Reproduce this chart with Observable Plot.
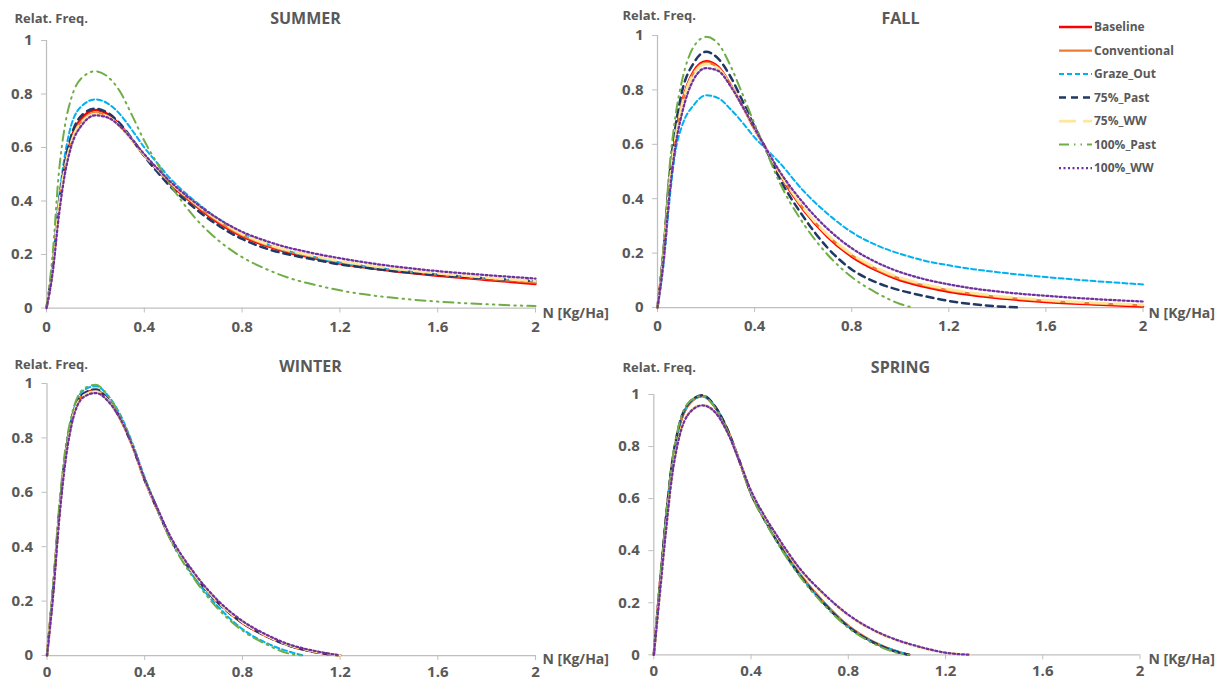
<!DOCTYPE html>
<html>
<head>
<meta charset="utf-8">
<script src="https://cdn.jsdelivr.net/npm/d3@7"></script>
<script src="https://cdn.jsdelivr.net/npm/@observablehq/plot@0.6"></script>
<style>
  html, body { margin: 0; padding: 0; background: #fff; }
  #wrap { position: relative; width: 1225px; height: 681px; overflow: hidden; font-family: 'Open Sans', sans-serif; }
</style>
</head>
<body>
<div id="wrap"></div>
<script>
// ---------------- DATA ----------------
const xs = [0, 0.025, 0.05, 0.075, 0.1, 0.15, 0.2, 0.25, 0.3, 0.35, 0.4, 0.45, 0.5, 0.6, 0.7, 0.8, 0.9, 1.0, 1.05, 1.1, 1.2, 1.3, 1.4, 1.5, 1.6, 1.8, 2.0];
const seriesNames = ["Baseline", "Conventional", "Graze_Out", "75%_Past", "75%_WW", "100%_Past", "100%_WW"];
const seasons = ["SUMMER", "FALL", "WINTER", "SPRING"];
const xTicks = [0, 0.4, 0.8, 1.2, 1.6, 2];
const yTicks = [0, 0.2, 0.4, 0.6, 0.8, 1];

// SUMMER
const summerBaseline     = [0, 0.15, 0.38, 0.53, 0.63, 0.715, 0.74, 0.725, 0.685, 0.63, 0.57, 0.52, 0.47, 0.39, 0.32, 0.268, 0.232, 0.205, 0.195, 0.185, 0.166, 0.152, 0.14, 0.13, 0.121, 0.105, 0.09];
const summerConventional = [0, 0.15, 0.37, 0.52, 0.62, 0.705, 0.73, 0.718, 0.68, 0.627, 0.57, 0.52, 0.472, 0.393, 0.325, 0.272, 0.236, 0.209, 0.199, 0.189, 0.17, 0.156, 0.144, 0.134, 0.125, 0.109, 0.095];
const summerGrazeOut     = [0, 0.16, 0.40, 0.57, 0.68, 0.76, 0.78, 0.765, 0.725, 0.665, 0.60, 0.545, 0.49, 0.405, 0.335, 0.28, 0.24, 0.21, 0.199, 0.189, 0.17, 0.157, 0.145, 0.135, 0.127, 0.112, 0.1];
const summer75Past       = [0, 0.15, 0.38, 0.54, 0.64, 0.725, 0.745, 0.73, 0.69, 0.632, 0.568, 0.512, 0.46, 0.378, 0.31, 0.258, 0.222, 0.198, 0.189, 0.18, 0.163, 0.151, 0.14, 0.131, 0.124, 0.111, 0.1];
const summer75WW         = [0, 0.15, 0.37, 0.52, 0.615, 0.70, 0.725, 0.715, 0.68, 0.628, 0.572, 0.523, 0.476, 0.397, 0.33, 0.277, 0.24, 0.213, 0.203, 0.193, 0.175, 0.161, 0.149, 0.139, 0.13, 0.114, 0.1];
const summer100Past      = [0, 0.2, 0.5, 0.68, 0.78, 0.865, 0.885, 0.865, 0.81, 0.72, 0.625, 0.545, 0.47, 0.345, 0.255, 0.19, 0.145, 0.11, 0.097, 0.086, 0.066, 0.051, 0.04, 0.031, 0.024, 0.014, 0.007];
const summer100WW        = [0, 0.13, 0.34, 0.5, 0.6, 0.69, 0.72, 0.712, 0.68, 0.63, 0.575, 0.525, 0.478, 0.4, 0.335, 0.285, 0.25, 0.223, 0.213, 0.203, 0.186, 0.171, 0.158, 0.147, 0.138, 0.123, 0.11];

// FALL
const fallBaseline     = [0, 0.2, 0.47, 0.64, 0.75, 0.87, 0.905, 0.885, 0.82, 0.74, 0.655, 0.58, 0.495, 0.36, 0.26, 0.187, 0.137, 0.1, 0.087, 0.076, 0.058, 0.045, 0.035, 0.027, 0.02, 0.011, 0.004];
const fallConventional = [0, 0.2, 0.46, 0.63, 0.745, 0.865, 0.9, 0.882, 0.82, 0.74, 0.656, 0.58, 0.498, 0.365, 0.265, 0.192, 0.142, 0.105, 0.092, 0.081, 0.063, 0.05, 0.039, 0.031, 0.024, 0.015, 0.008];
const fallGrazeOut     = [0, 0.16, 0.4, 0.58, 0.665, 0.745, 0.78, 0.77, 0.73, 0.68, 0.625, 0.58, 0.535, 0.43, 0.345, 0.277, 0.23, 0.197, 0.184, 0.172, 0.155, 0.141, 0.13, 0.12, 0.112, 0.097, 0.085];
const fall75Past       = [0, 0.21, 0.49, 0.67, 0.79, 0.9, 0.94, 0.915, 0.85, 0.76, 0.665, 0.575, 0.48, 0.335, 0.22, 0.14, 0.093, 0.063, 0.052, 0.042, 0.024, 0.012, 0.004, 0, null, null, null];
const fall75WW         = [0, 0.19, 0.455, 0.625, 0.74, 0.86, 0.895, 0.878, 0.817, 0.74, 0.657, 0.58, 0.5, 0.368, 0.268, 0.196, 0.146, 0.109, 0.096, 0.085, 0.067, 0.053, 0.042, 0.034, 0.027, 0.017, 0.01];
const fall100Past      = [0, 0.22, 0.52, 0.71, 0.83, 0.96, 0.995, 0.97, 0.89, 0.785, 0.675, 0.57, 0.465, 0.31, 0.195, 0.112, 0.055, 0.013, 0, null, null, null, null, null, null, null, null];
const fall100WW        = [0, 0.17, 0.42, 0.6, 0.71, 0.84, 0.88, 0.87, 0.815, 0.74, 0.658, 0.58, 0.505, 0.385, 0.29, 0.218, 0.167, 0.13, 0.116, 0.104, 0.085, 0.07, 0.059, 0.05, 0.043, 0.031, 0.022];

// WINTER
const winterBaseline     = [0, 0.24, 0.52, 0.73, 0.86, 0.96, 0.975, 0.94, 0.87, 0.77, 0.645, 0.54, 0.44, 0.3, 0.195, 0.12, 0.07, 0.034, 0.022, 0.013, 0, null, null, null, null, null, null];
const winterConventional = [0, 0.24, 0.52, 0.73, 0.86, 0.96, 0.973, 0.94, 0.87, 0.77, 0.647, 0.542, 0.442, 0.302, 0.197, 0.122, 0.071, 0.035, 0.023, 0.013, 0, null, null, null, null, null, null];
const winterGrazeOut     = [0, 0.25, 0.53, 0.74, 0.87, 0.975, 0.99, 0.955, 0.885, 0.78, 0.655, 0.545, 0.44, 0.29, 0.18, 0.097, 0.045, 0.012, 0, null, null, null, null, null, null, null, null];
const winter75Past       = [0, 0.24, 0.525, 0.735, 0.865, 0.963, 0.978, 0.942, 0.871, 0.77, 0.645, 0.54, 0.44, 0.3, 0.194, 0.12, 0.07, 0.034, 0.022, 0.012, 0, null, null, null, null, null, null];
const winter75WW         = [0, 0.235, 0.515, 0.725, 0.855, 0.955, 0.97, 0.937, 0.868, 0.769, 0.646, 0.542, 0.443, 0.303, 0.198, 0.123, 0.073, 0.036, 0.024, 0.014, 0, null, null, null, null, null, null];
const winter100Past      = [0, 0.26, 0.55, 0.76, 0.88, 0.98, 0.995, 0.955, 0.88, 0.775, 0.65, 0.54, 0.435, 0.285, 0.172, 0.092, 0.04, 0.005, 0, null, null, null, null, null, null, null, null];
const winter100WW        = [0, 0.22, 0.5, 0.71, 0.845, 0.95, 0.965, 0.935, 0.87, 0.77, 0.648, 0.545, 0.447, 0.307, 0.202, 0.127, 0.076, 0.038, 0.026, 0.016, 0, null, null, null, null, null, null];

// SPRING
const springBaseline     = [0, 0.27, 0.52, 0.73, 0.86, 0.97, 0.995, 0.955, 0.87, 0.75, 0.62, 0.53, 0.45, 0.31, 0.2, 0.11, 0.05, 0.012, 0, null, null, null, null, null, null, null, null];
const springConventional = [0, 0.265, 0.515, 0.725, 0.857, 0.968, 0.993, 0.955, 0.871, 0.752, 0.622, 0.532, 0.452, 0.312, 0.202, 0.112, 0.052, 0.013, 0, null, null, null, null, null, null, null, null];
const springGrazeOut     = [0, 0.27, 0.52, 0.73, 0.86, 0.97, 0.993, 0.955, 0.87, 0.75, 0.62, 0.53, 0.448, 0.308, 0.198, 0.108, 0.05, 0.014, 0, null, null, null, null, null, null, null, null];
const spring75Past       = [0, 0.27, 0.525, 0.735, 0.865, 0.973, 0.997, 0.957, 0.872, 0.75, 0.619, 0.528, 0.447, 0.307, 0.197, 0.108, 0.049, 0.011, 0, null, null, null, null, null, null, null, null];
const spring75WW         = [0, 0.24, 0.48, 0.69, 0.82, 0.935, 0.96, 0.935, 0.86, 0.75, 0.628, 0.54, 0.465, 0.33, 0.232, 0.152, 0.095, 0.055, 0.04, 0.027, 0.008, 0, null, null, null, null, null];
const spring100Past      = [0, 0.275, 0.53, 0.74, 0.87, 0.975, 0.995, 0.952, 0.866, 0.745, 0.615, 0.525, 0.443, 0.302, 0.192, 0.104, 0.045, 0.008, 0, null, null, null, null, null, null, null, null];
const spring100WW        = [0, 0.235, 0.475, 0.685, 0.818, 0.933, 0.958, 0.934, 0.86, 0.75, 0.63, 0.542, 0.467, 0.332, 0.234, 0.154, 0.097, 0.057, 0.042, 0.029, 0.008, 0, null, null, null, null, null];

const seasonSeries = {
  SUMMER: [summerBaseline, summerConventional, summerGrazeOut, summer75Past, summer75WW, summer100Past, summer100WW],
  FALL:   [fallBaseline, fallConventional, fallGrazeOut, fall75Past, fall75WW, fall100Past, fall100WW],
  WINTER: [winterBaseline, winterConventional, winterGrazeOut, winter75Past, winter75WW, winter100Past, winter100WW],
  SPRING: [springBaseline, springConventional, springGrazeOut, spring75Past, spring75WW, spring100Past, spring100WW]
};

// ---------------- STYLE ----------------
const lineStyles = {
  "Baseline":     {stroke: "#ff0000", width: 2.5,  dash: undefined},
  "Conventional": {stroke: "#ed7d31", width: 2.25, dash: undefined},
  "Graze_Out":    {stroke: "#00b0f0", width: 2,    dash: "5,3"},
  "75%_Past":     {stroke: "#1f3864", width: 2.5,  dash: "7,5"},
  "75%_WW":       {stroke: "#ffe699", width: 2.75, dash: "17,7"},
  "100%_Past":    {stroke: "#70ad47", width: 2,    dash: "10,5,1.5,5,1.5,5"},
  "100%_WW":      {stroke: "#7030a0", width: 2.25, dash: "2,2.5"}
};
const textColor = "#595959";
const axisColor = "#bfbfbf";
const FONT = "'Open Sans', 'Liberation Sans', sans-serif";

// panel boxes (absolute px) and margins
const panels = [
  {season: "SUMMER", left: 0,   top: 0,   width: 612, height: 340, mt: 40, mb: 32.5, ml: 46,   mr: 77,   xpad: 8,
   title: [305, 18], ylab: [14, 18], xlab: [542, 313]},
  {season: "FALL",   left: 612, top: 0,   width: 613, height: 340, mt: 35, mb: 33,   ml: 45,   mr: 82.5, xpad: 8,
   title: [900, 18], ylab: [622, 15], xlab: [1148, 313]},
  {season: "WINTER", left: 0,   top: 340, width: 612, height: 341, mt: 43, mb: 26,   ml: 46.5, mr: 77,   xpad: 6,
   title: [310, 366], ylab: [14, 364], xlab: [542, 659]},
  {season: "SPRING", left: 612, top: 340, width: 613, height: 341, mt: 54, mb: 26.7, ml: 41.3, mr: 85.5, xpad: 6,
   title: [900, 367], ylab: [622, 367], xlab: [1148, 659]}
];

const wrap = document.getElementById("wrap");
const fmt = d => String(d);

for (const p of panels) {
  const fx = p.left + p.ml, fy = p.top + p.mt;
  const lab = (txt, pos, anchor, size) => Plot.text([txt], {
    frameAnchor: "top-left", dx: pos[0] - fx, dy: pos[1] - fy,
    text: d => d, textAnchor: anchor, lineAnchor: "middle",
    fontSize: size, fontWeight: "bold", fill: textColor
  });
  const lines = seriesNames.map((name, k) => {
    const vals = seasonSeries[p.season][k];
    const data = xs.map((x, i) => ({x, y: vals[i]})).filter(d => d.y != null);
    const s = lineStyles[name];
    return Plot.line(data, {x: "x", y: "y", stroke: s.stroke, strokeWidth: s.width,
      strokeDasharray: s.dash, curve: "monotone-x", strokeLinejoin: "round"});
  });
  const svg = Plot.plot({
    width: p.width, height: p.height,
    marginTop: p.mt, marginBottom: p.mb, marginLeft: p.ml, marginRight: p.mr,
    x: {domain: [0, 2]},
    y: {domain: [0, 1]},
    style: {fontFamily: FONT, fontSize: "15px", fontWeight: "bold", color: textColor, background: "transparent", overflow: "visible"},
    marks: [
      Plot.axisY({ticks: yTicks, tickFormat: fmt, tickSize: 5, tickPadding: 9, stroke: axisColor, fill: textColor, fontSize: 15, fontWeight: "bold", label: null}),
      Plot.axisX({ticks: xTicks, tickFormat: fmt, tickSize: 5, tickPadding: p.xpad, stroke: axisColor, fill: textColor, fontSize: 15, fontWeight: "bold", label: null}),
      Plot.ruleX([0], {stroke: axisColor, strokeWidth: 1.25}),
      Plot.ruleY([0], {stroke: axisColor, strokeWidth: 1.25}),
      ...lines,
      lab(p.season, p.title, "middle", 16),
      lab("Relat. Freq.", p.ylab, "start", 13),
      lab("N [Kg/Ha]", p.xlab, "start", 14)
    ]
  });
  svg.style.position = "absolute";
  svg.style.left = p.left + "px";
  svg.style.top = p.top + "px";
  wrap.appendChild(svg);
}

// ---------------- LEGEND ----------------
const leg = d3.select(wrap).append("svg")
  .attr("width", 175).attr("height", 175)
  .style("position", "absolute").style("left", "1050px").style("top", "10px")
  .style("overflow", "visible");
seriesNames.forEach((name, i) => {
  const y = 17 + i * 23.5;
  const s = lineStyles[name];
  const g = leg.append("g").attr("transform", `translate(0,${y})`);
  g.append("line").attr("x1", 9).attr("x2", 42).attr("y1", 0).attr("y2", 0)
    .attr("stroke", s.stroke).attr("stroke-width", s.width)
    .attr("stroke-dasharray", s.dash || null);
  g.append("text").attr("x", 44).attr("y", 0).attr("dy", "0.35em")
    .attr("fill", textColor).attr("font-family", FONT).attr("font-weight", "bold")
    .attr("font-size", 12).text(name);
});
</script>
</body>
</html>
